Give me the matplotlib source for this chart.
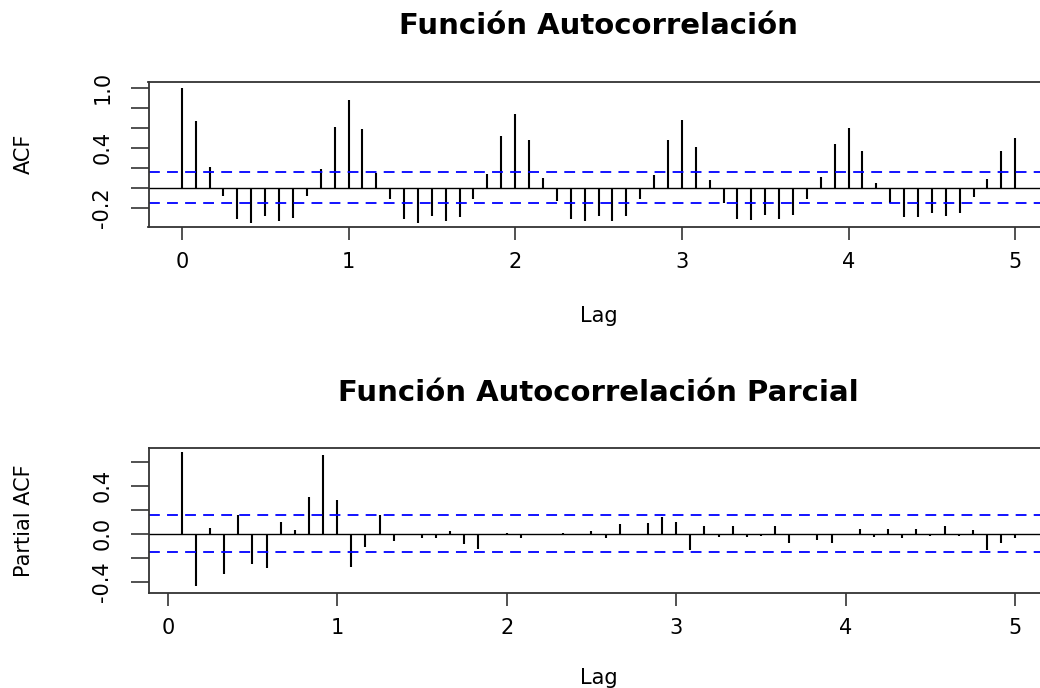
import numpy as np
import matplotlib
matplotlib.use("Agg")
import matplotlib.pyplot as plt

# valores (serie mensual, frecuencia 12)
acf_vals = [1.00, 0.67, 0.21, -0.08, -0.31, -0.35, -0.28, -0.33, -0.30, -0.08,
            0.19, 0.61, 0.88, 0.59, 0.15, -0.11, -0.31, -0.35, -0.28, -0.33,
            -0.29, -0.11, 0.14, 0.52, 0.74, 0.48, 0.10, -0.13, -0.31, -0.33,
            -0.28, -0.33, -0.28, -0.11, 0.13, 0.48, 0.68, 0.41, 0.08, -0.15,
            -0.31, -0.32, -0.27, -0.31, -0.27, -0.11, 0.11, 0.44, 0.60, 0.37,
            0.05, -0.15, -0.29, -0.29, -0.25, -0.28, -0.25, -0.09, 0.09, 0.37,
            0.50]
pacf_vals = [0.68, -0.44, 0.05, -0.34, 0.16, -0.25, -0.29, 0.10, 0.03, 0.31,
             0.66, 0.28, -0.28, -0.11, 0.16, -0.06, -0.01, -0.04, -0.04, 0.02,
             -0.09, -0.13, -0.01, 0.003, -0.04, -0.005, -0.01, 0.003, -0.01, 0.02,
             -0.04, 0.08, -0.01, 0.09, 0.14, 0.10, -0.14, 0.06, -0.03, 0.06,
             -0.03, -0.02, 0.06, -0.08, -0.01, -0.05, -0.08, -0.01, 0.04, -0.03,
             0.04, -0.04, 0.04, -0.02, 0.06, -0.02, 0.03, -0.14, -0.08, -0.04]
freq = 12
conf = 0.152

acf_lags = np.arange(len(acf_vals)) / freq
pacf_lags = np.arange(1, len(pacf_vals) + 1) / freq

plt.rcParams['font.family'] = ['DejaVu Sans']

fig = plt.figure(figsize=(10.4, 6.88), dpi=100)
ax1 = fig.add_axes([148.5 / 1040, 1 - 226.7 / 688, 900 / 1040, 145 / 688])
ax2 = fig.add_axes([148.5 / 1040, 1 - 592.7 / 688, 900 / 1040, 144.4 / 688])


def draw(ax, lags, vals, ylim, yticks, ylabels, xlim):
    ax.vlines(lags, 0, vals, color="black", lw=1.5)
    ax.axhline(0, color="black", lw=1)
    ax.axhline(conf, color="blue", lw=1.3, linestyle=(0, (6, 4)))
    ax.axhline(-conf, color="blue", lw=1.3, linestyle=(0, (6, 4)))
    ax.set_xlim(*xlim)
    ax.set_ylim(*ylim)
    ax.set_xticks(range(6))
    ax.set_xticklabels([str(i) for i in range(6)], fontsize=15)
    ax.set_yticks(yticks)
    ax.set_yticklabels(ylabels, fontsize=15, rotation=90, va="center", ha="right")
    ax.tick_params(axis="x", length=9.5, width=1.2, pad=9, color="#333333")
    ax.tick_params(axis="y", length=13, width=1.2, pad=13, color="#333333")
    for s in ax.spines.values():
        s.set_color("#333333")
        s.set_linewidth(1.3)


draw(ax1, acf_lags, acf_vals, (-0.391, 1.061),
     [-0.2, 0.0, 0.2, 0.4, 0.6, 0.8, 1.0],
     ["-0.2", "", "", "0.4", "", "", "1.0"], (-0.2, 5.2))
draw(ax2, pacf_lags, pacf_vals, (-0.492, 0.712),
     [-0.4, -0.2, 0.0, 0.2, 0.4, 0.6],
     ["-0.4", "", "0.0", "", "0.4", ""], (1 / 12 - 0.197, 5.197))

fig.text(598.5 / 1040, 1 - 26 / 688, "Función Autocorrelación",
         ha="center", va="center", fontsize=21, fontweight="bold")
fig.text(598.5 / 1040, 1 - 393 / 688, "Función Autocorrelación Parcial",
         ha="center", va="center", fontsize=21, fontweight="bold")
fig.text(598.5 / 1040, 1 - 316 / 688, "Lag", ha="center", va="center", fontsize=15)
fig.text(598.5 / 1040, 1 - 678 / 688, "Lag", ha="center", va="center", fontsize=15)
fig.text(24 / 1040, 1 - 154 / 688, "ACF", ha="center", va="center",
         rotation=90, fontsize=15)
fig.text(24 / 1040, 1 - 521 / 688, "Partial ACF", ha="center", va="center",
         rotation=90, fontsize=15)

fig.savefig("out.png", dpi=100)
